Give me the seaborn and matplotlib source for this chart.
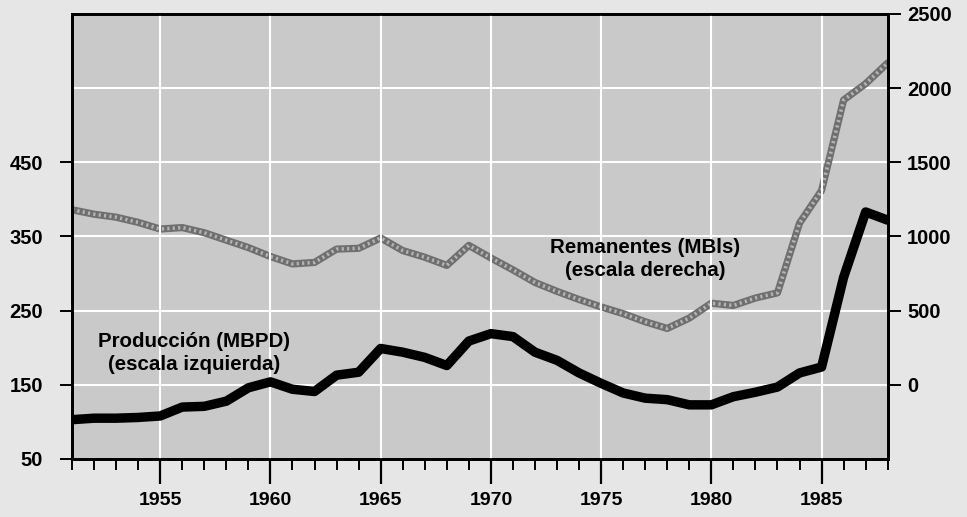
import numpy as np
import pandas as pd
import matplotlib
matplotlib.use('Agg')
import matplotlib.pyplot as plt
import seaborn as sns
from matplotlib.ticker import MultipleLocator

# datos
years = list(range(1951, 1989))
produccion = [103, 105, 105, 106, 108, 120, 121, 128, 146, 154,
              144, 141, 163, 167, 199, 194, 187, 176, 209, 219,
              215, 194, 183, 166, 152, 139, 132, 130, 123, 123,
              134, 140, 147, 166, 174, 295, 383, 372]
remanentes = [1180, 1150, 1130, 1095, 1050, 1060, 1025, 975, 925, 865,
              815, 825, 915, 920, 990, 905, 860, 805, 940, 855,
              775, 690, 630, 575, 525, 480, 425, 380, 450, 550,
              535, 585, 620, 1090, 1310, 1920, 2030, 2170]

left_ticks = [50, 150, 250, 350, 450]
right_ticks = [0, 500, 1000, 1500, 2000, 2500]
x_major = [1955, 1960, 1965, 1970, 1975, 1980, 1985]

df = pd.DataFrame({'anio': years, 'prod': produccion, 'rem': remanentes})

sns.set_style('ticks')
plt.rcParams['font.family'] = ['Liberation Sans', 'DejaVu Sans']
plt.rcParams['text.color'] = 'black'

fig = plt.figure(figsize=(9.67, 5.17), dpi=100, facecolor='#e6e6e6')
ax = fig.add_axes([0.0745, 0.1122, 0.8435, 0.8608])
ax2 = ax.twinx()

# el eje derecho va detras con el fondo gris y la rejilla horizontal
ax2.set_zorder(1)
ax.set_zorder(2)
ax.patch.set_visible(False)
ax2.patch.set_visible(True)
ax2.patch.set_facecolor('#c9c9c9')

# linea punteada (trama) de remanentes
sns.lineplot(data=df, x='anio', y='rem', ax=ax2, color='#6f6f6f', lw=5.2)
sns.lineplot(data=df, x='anio', y='rem', ax=ax2, color='#b4b4b4', lw=2.6,
             dashes=False, linestyle=(0, (0.6, 0.9)))
sns.lineplot(data=df, x='anio', y='prod', ax=ax, color='black', lw=6.8)

ax.set_xlim(1951, 1988)
ax.set_ylim(50, 650)
ax2.set_ylim(-500, 2500)

ax.set_xticks(x_major)
ax.xaxis.set_minor_locator(MultipleLocator(1))
ax.set_yticks(left_ticks)
ax2.set_yticks(right_ticks)

ax.grid(axis='x', color='white', lw=1.5)
ax.set_axisbelow(True)
ax2.grid(axis='y', color='white', lw=1.5)

ax.set_xlabel('')
ax.set_ylabel('')
ax2.set_ylabel('')

ax.tick_params(axis='x', which='major', length=18, width=1.6, pad=6,
               labelsize=14, colors='black', direction='out')
ax.tick_params(axis='x', which='minor', length=8, width=1.4, direction='out', colors='black')
ax.tick_params(axis='y', length=9, width=1.4, pad=12, labelsize=14.5,
               direction='out', colors='black')
ax2.tick_params(axis='y', length=9, width=1.4, pad=5, labelsize=14.5,
                direction='out', colors='black')
for t in ax.get_xticklabels() + ax.get_yticklabels() + ax2.get_yticklabels():
    t.set_fontweight('bold')

for a in (ax, ax2):
    for s in a.spines.values():
        s.set_visible(True)
        s.set_linewidth(2)
        s.set_color('black')

ax.text(1956.55, 193, 'Producción (MBPD)\n(escala izquierda)', ha='center', va='center',
        fontsize=14.8, fontweight='bold', linespacing=1.25, color='black')
# texto en el eje de delante, con la escala derecha
ax.text(1977.0, 850, 'Remanentes (MBls)\n(escala derecha)', ha='center', va='center',
        fontsize=14.8, fontweight='bold', linespacing=1.25, color='black',
        transform=ax2.transData)

fig.savefig('out.png', dpi=100, facecolor=fig.get_facecolor())
